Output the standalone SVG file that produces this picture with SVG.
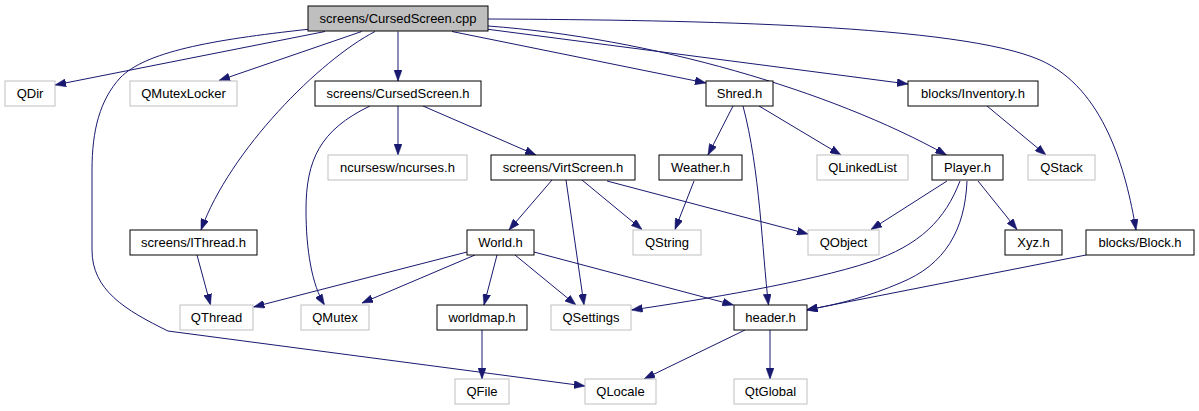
<svg xmlns="http://www.w3.org/2000/svg" width="1199" height="411" viewBox="0 0 1199 411">
<style>
.n rect{fill:#fff;stroke:#000;stroke-width:1}
.g rect{fill:#fff;stroke:#bfbfbf;stroke-width:1}
.r rect{fill:#bfbfbf;stroke:#000;stroke-width:1}
text{font-family:"Liberation Sans",Arial,sans-serif;font-size:13px;fill:#000;text-anchor:middle}
#edges path{fill:none;stroke:#191970;stroke-width:1;marker-end:url(#ah)}
</style>
<defs>
<marker id="ah" markerUnits="userSpaceOnUse" markerWidth="11" markerHeight="8" refX="11" refY="4" orient="auto">
<path d="M0,0 L11,4 L0,8 z" fill="#191970" stroke="#191970" stroke-width="0.5"/>
</marker>
</defs>
<rect width="1199" height="411" fill="#fff"/>
<g id="edges">
<path d="M325,31.5 L55,85"/>
<path d="M361.7,31.5 L219,80.5"/>
<path d="M375,31.5 C320,60 230,150 201,230"/>
<path d="M398,31.5 L398,81"/>
<path d="M452,31.5 L706,83"/>
<path d="M488,29.3 L908,84"/>
<path d="M488,26 C650,38 830,90 946.5,155"/>
<path d="M488,19 C700,20 960,25 1040,60 C1104,88 1126,170 1136,230"/>
<path d="M308,29.3 C210,40 145,52 120,78 C100,100 92,130 92,170 L92,250 C92,290 125,310 168,331 L585,386"/>
<path d="M398,106 L398,155"/>
<path d="M423,106 L536,155"/>
<path d="M370,106 C320,130 306,160 306,210 C306,250 312,285 324.5,305"/>
<path d="M733,106 L708,155"/>
<path d="M759,106 L841,155"/>
<path d="M743,106 C760,170 762,250 768.5,305"/>
<path d="M987,106 L1046,155"/>
<path d="M552,180 L509,230"/>
<path d="M566,180 L584,305"/>
<path d="M582,180 L642,229.5"/>
<path d="M607,181 L808,234"/>
<path d="M694,181 L675,229.5"/>
<path d="M947,181 L871,229.5"/>
<path d="M960,181 C945,220 920,245 870,262 C810,282 700,300 631.5,310"/>
<path d="M967,181 C965,230 945,265 900,283 C870,296 840,304 806.5,310"/>
<path d="M978,181 L1017,229.5"/>
<path d="M197,255 L210.5,305"/>
<path d="M467,252 L253.5,307"/>
<path d="M475,255 L362,303"/>
<path d="M497,255 L484,305"/>
<path d="M515,255 L576,305"/>
<path d="M534,252 L733.5,305"/>
<path d="M482,330 L482,379"/>
<path d="M1086,255 L806.5,310"/>
<path d="M745,330 L644,379"/>
<path d="M770,330 L770,379"/>
</g>
<g id="n_cpp" class="r"><rect x="308" y="6" width="180" height="25"/><text x="398" y="23">screens/CursedScreen.cpp</text></g>
<g id="n_qdir" class="g"><rect x="5" y="81" width="50" height="25"/><text x="30" y="98">QDir</text></g>
<g id="n_qmutexlocker" class="g"><rect x="130" y="81" width="107" height="25"/><text x="183.5" y="98">QMutexLocker</text></g>
<g id="n_cursedscreen_h" class="n"><rect x="315" y="81" width="166" height="25"/><text x="398" y="98">screens/CursedScreen.h</text></g>
<g id="n_shred" class="n"><rect x="706" y="81" width="67" height="25"/><text x="739.5" y="98">Shred.h</text></g>
<g id="n_inventory" class="n"><rect x="908" y="81" width="130" height="25"/><text x="973" y="98">blocks/Inventory.h</text></g>
<g id="n_ncurses" class="g"><rect x="328" y="155" width="139" height="25"/><text x="397.5" y="172">ncursesw/ncurses.h</text></g>
<g id="n_virtscreen" class="n"><rect x="491" y="155" width="144" height="25"/><text x="563" y="172">screens/VirtScreen.h</text></g>
<g id="n_weather" class="n"><rect x="659" y="155" width="83" height="25"/><text x="700.5" y="172">Weather.h</text></g>
<g id="n_qlinkedlist" class="g"><rect x="817" y="155" width="91" height="25"/><text x="862.5" y="172">QLinkedList</text></g>
<g id="n_player" class="n"><rect x="932" y="155" width="71" height="25"/><text x="967.5" y="172">Player.h</text></g>
<g id="n_qstack" class="g"><rect x="1028" y="155" width="67" height="25"/><text x="1061.5" y="172">QStack</text></g>
<g id="n_ithread" class="n"><rect x="130" y="230" width="127" height="25"/><text x="193.5" y="247">screens/IThread.h</text></g>
<g id="n_world" class="n"><rect x="467" y="230" width="67" height="25"/><text x="500.5" y="247">World.h</text></g>
<g id="n_qstring" class="g"><rect x="633" y="230" width="68" height="25"/><text x="667" y="247">QString</text></g>
<g id="n_qobject" class="g"><rect x="808" y="230" width="71" height="25"/><text x="843.5" y="247">QObject</text></g>
<g id="n_xyz" class="n"><rect x="1005" y="230" width="57" height="25"/><text x="1033.5" y="247">Xyz.h</text></g>
<g id="n_block" class="n"><rect x="1086" y="230" width="108" height="25"/><text x="1140" y="247">blocks/Block.h</text></g>
<g id="n_qthread" class="g"><rect x="180" y="305" width="73" height="25"/><text x="216.5" y="322">QThread</text></g>
<g id="n_qmutex" class="g"><rect x="301" y="305" width="68" height="25"/><text x="335" y="322">QMutex</text></g>
<g id="n_worldmap" class="n"><rect x="437" y="305" width="90" height="25"/><text x="482" y="322">worldmap.h</text></g>
<g id="n_qsettings" class="g"><rect x="551" y="305" width="80" height="25"/><text x="591" y="322">QSettings</text></g>
<g id="n_header" class="n"><rect x="734" y="305" width="73" height="25"/><text x="770.5" y="322">header.h</text></g>
<g id="n_qfile" class="g"><rect x="455" y="379" width="54" height="25"/><text x="482" y="396">QFile</text></g>
<g id="n_qlocale" class="g"><rect x="585" y="379" width="71" height="25"/><text x="620.5" y="396">QLocale</text></g>
<g id="n_qtglobal" class="g"><rect x="734" y="379" width="73" height="25"/><text x="770.5" y="396">QtGlobal</text></g>
</svg>
